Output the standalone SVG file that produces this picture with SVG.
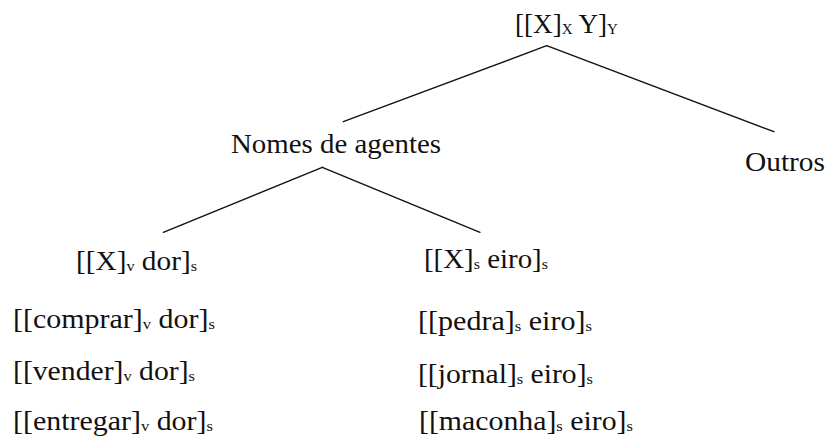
<svg xmlns="http://www.w3.org/2000/svg" width="827" height="439" viewBox="0 0 827 439">
  <style>
    text { font-family: "Liberation Serif", "DejaVu Serif", serif; font-size: 27px; fill: #111; }
    .sub { font-size: 15px; }
    .edge { stroke: #111; stroke-width: 1.4; fill: none; stroke-linecap: round; }
  </style>
  <rect width="827" height="439" fill="#fff"/>

  <g id="connectors">
    <line class="edge" x1="546.7" y1="45.7" x2="343.3" y2="121.7"/>
    <line class="edge" x1="546.7" y1="45.7" x2="774" y2="131.7"/>
    <line class="edge" x1="322.3" y1="167.3" x2="163.3" y2="232.3"/>
    <line class="edge" x1="322.3" y1="167.3" x2="480" y2="232.3"/>
  </g>

  <g id="root">
    <text x="515" y="33" textLength="103" lengthAdjust="spacingAndGlyphs">[[X]<tspan class="sub" dy="1">X</tspan><tspan dy="-1"> Y]</tspan><tspan class="sub" dy="1">Y</tspan></text>
  </g>

  <g id="nomes-de-agentes">
    <text x="231" y="153" textLength="210" lengthAdjust="spacingAndGlyphs">Nomes de agentes</text>
  </g>

  <g id="outros">
    <text x="745" y="171" textLength="80" lengthAdjust="spacingAndGlyphs">Outros</text>
  </g>

  <g id="dor">
    <text x="76" y="270" textLength="121" lengthAdjust="spacingAndGlyphs">[[X]<tspan class="sub" dy="1">v</tspan><tspan dy="-1"> dor]</tspan><tspan class="sub" dy="1">s</tspan></text>
    <text x="13" y="328" textLength="202" lengthAdjust="spacingAndGlyphs">[[comprar]<tspan class="sub" dy="1">v</tspan><tspan dy="-1"> dor]</tspan><tspan class="sub" dy="1">s</tspan></text>
    <text x="13" y="380" textLength="182" lengthAdjust="spacingAndGlyphs">[[vender]<tspan class="sub" dy="1">v</tspan><tspan dy="-1"> dor]</tspan><tspan class="sub" dy="1">s</tspan></text>
    <text x="13" y="430" textLength="200" lengthAdjust="spacingAndGlyphs">[[entregar]<tspan class="sub" dy="1">v</tspan><tspan dy="-1"> dor]</tspan><tspan class="sub" dy="1">s</tspan></text>
  </g>

  <g id="eiro">
    <text x="424" y="268" textLength="124" lengthAdjust="spacingAndGlyphs">[[X]<tspan class="sub" dy="1">s</tspan><tspan dy="-1"> eiro]</tspan><tspan class="sub" dy="1">s</tspan></text>
    <text x="418" y="330" textLength="174" lengthAdjust="spacingAndGlyphs">[[pedra]<tspan class="sub" dy="1">s</tspan><tspan dy="-1"> eiro]</tspan><tspan class="sub" dy="1">s</tspan></text>
    <text x="418" y="383" textLength="175" lengthAdjust="spacingAndGlyphs">[[jornal]<tspan class="sub" dy="1">s</tspan><tspan dy="-1"> eiro]</tspan><tspan class="sub" dy="1">s</tspan></text>
    <text x="419" y="430" textLength="214" lengthAdjust="spacingAndGlyphs">[[maconha]<tspan class="sub" dy="1">s</tspan><tspan dy="-1"> eiro]</tspan><tspan class="sub" dy="1">s</tspan></text>
  </g>
</svg>
